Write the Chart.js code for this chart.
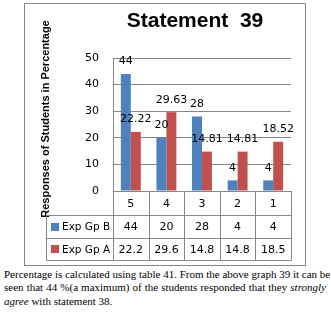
<!DOCTYPE html>
<html>
<head>
<meta charset="utf-8">
<script src="https://cdn.jsdelivr.net/npm/chart.js@4"></script>
<style>
  html, body { margin: 0; padding: 0; background: #fff; }
  #wrap { position: absolute; left: 0; top: 0; width: 331px; height: 266px; }
  #note {
    position: absolute; left: 4px; top: 268px; width: 322px;
    font: 11px "Liberation Serif", serif; line-height: 13.3px; color: #000;
  }
  #note div { white-space: nowrap; }
  #note .j { text-align: justify; text-align-last: justify; }
</style>
</head>
<body>
<div id="wrap"><canvas id="stmt39" width="331" height="266"></canvas></div>
<div id="note">
  <div class="j">Percentage is calculated using table 41. From the above graph 39 it can be</div>
  <div class="j">seen that 44 %(a maximum) of the students responded that they <i>strongly</i></div>
  <div><i>agree</i> with statement 38.</div>
</div>
<script>
const categories = ["5", "4", "3", "2", "1"];
const groupB = [44, 20, 28, 4, 4];
const groupA = [22.22, 29.63, 14.81, 14.81, 18.52];
const seriesNames = ["Exp Gp B", "Exp Gp A"];
const yMax = 50;
const yStep = 10;

const BLUE = "#4f81bd";
const RED = "#c0504d";
const LINE = "#868686";
const FONT = "DejaVu Sans";

// frame, title and y title
const framePlugin = {
  id: "frame",
  beforeDraw(chart) {
    const ctx = chart.ctx;
    ctx.save();
    ctx.strokeStyle = LINE;
    ctx.lineWidth = 1;
    ctx.strokeRect(24.5, 3.5, 281, 262);

    ctx.fillStyle = "#000";
    ctx.font = "bold 21px 'Liberation Sans'";
    ctx.textAlign = "center";
    ctx.textBaseline = "alphabetic";
    ctx.fillText("Statement  39", 195, 27);

    ctx.translate(46, 119);
    ctx.rotate(-Math.PI / 2);
    ctx.font = "bold 11px 'Liberation Sans'";
    ctx.textBaseline = "middle";
    ctx.fillText("Responses of Students in Percentage", 0, 0);
    ctx.restore();
  },
};

// value labels on top of bars
const labelPlugin = {
  id: "barLabels",
  afterDatasetsDraw(chart) {
    const ctx = chart.ctx;
    ctx.save();
    ctx.fillStyle = "#000";
    ctx.font = "11px '" + FONT + "'";
    ctx.textAlign = "center";
    ctx.textBaseline = "bottom";
    chart.data.datasets.forEach((ds, i) => {
      chart.getDatasetMeta(i).data.forEach((bar, j) => {
        ctx.fillText(String(ds.data[j]), bar.x, bar.y - 7);
      });
    });
    ctx.restore();
  },
};

// data table under the plot
const tablePlugin = {
  id: "dataTable",
  afterDraw(chart) {
    const ctx = chart.ctx;
    const area = chart.chartArea;
    const n = categories.length;
    const w = (area.right - area.left) / n;
    const y0 = area.bottom;
    const y1 = y0 + 24;
    const y2 = y0 + 47;
    const y3 = y0 + 69;
    const left = 46;

    ctx.save();
    ctx.strokeStyle = LINE;
    ctx.lineWidth = 1;
    ctx.beginPath();
    [y1, y2, y3].forEach((y) => {
      ctx.moveTo(left, Math.round(y) + 0.5);
      ctx.lineTo(area.right, Math.round(y) + 0.5);
    });
    for (let i = 0; i <= n; i++) {
      const x = Math.round(area.left + i * w) + 0.5;
      ctx.moveTo(x, y0);
      ctx.lineTo(x, y3 + 0.5);
    }
    ctx.moveTo(left + 0.5, y1);
    ctx.lineTo(left + 0.5, y3 + 0.5);
    ctx.stroke();

    ctx.fillStyle = "#000";
    ctx.font = "11px '" + FONT + "'";
    ctx.textAlign = "center";
    ctx.textBaseline = "middle";
    const rowsB = groupB.map((v) => String(v));
    const rowsA = groupA.map((v) => v.toFixed(1));
    categories.forEach((c, i) => {
      const cx = area.left + (i + 0.5) * w;
      ctx.fillText(c, cx, (y0 + y1) / 2 + 1);
      ctx.fillText(rowsB[i], cx, (y1 + y2) / 2 + 1);
      ctx.fillText(rowsA[i], cx, (y2 + y3) / 2 + 1);
    });

    ctx.textAlign = "left";
    ctx.font = "10.5px '" + FONT + "'";
    [[y1, y2, BLUE, seriesNames[0]], [y2, y3, RED, seriesNames[1]]].forEach(([a, b, col, name]) => {
      const cy = (a + b) / 2;
      ctx.fillStyle = col;
      ctx.fillRect(51, Math.round(cy) - 4, 8, 8);
      ctx.fillStyle = "#000";
      ctx.fillText(name, 62, cy + 1);
    });
    ctx.restore();
  },
};

new Chart(document.getElementById("stmt39"), {
  type: "bar",
  data: {
    labels: categories,
    datasets: [
      { label: seriesNames[0], data: groupB, backgroundColor: BLUE },
      { label: seriesNames[1], data: groupA, backgroundColor: RED },
    ],
  },
  options: {
    responsive: false,
    animation: false,
    layout: { padding: { left: 0, right: 40, top: 58, bottom: 75 } },
    datasets: { bar: { categoryPercentage: 0.56, barPercentage: 1 } },
    plugins: {
      legend: { display: false },
      title: { display: false },
      tooltip: { enabled: false },
    },
    scales: {
      x: { display: false },
      y: {
        min: 0,
        max: yMax,
        ticks: { stepSize: yStep, padding: 14, color: "#000", font: { family: FONT, size: 11 } },
        grid: { color: LINE, drawTicks: false },
        border: { color: LINE },
        afterFit(scale) {
          scale.width = 113;
          scale.paddingTop = 0;
          scale.paddingBottom = 0;
        },
      },
    },
  },
  plugins: [framePlugin, labelPlugin, tablePlugin],
});
</script>
</body>
</html>
